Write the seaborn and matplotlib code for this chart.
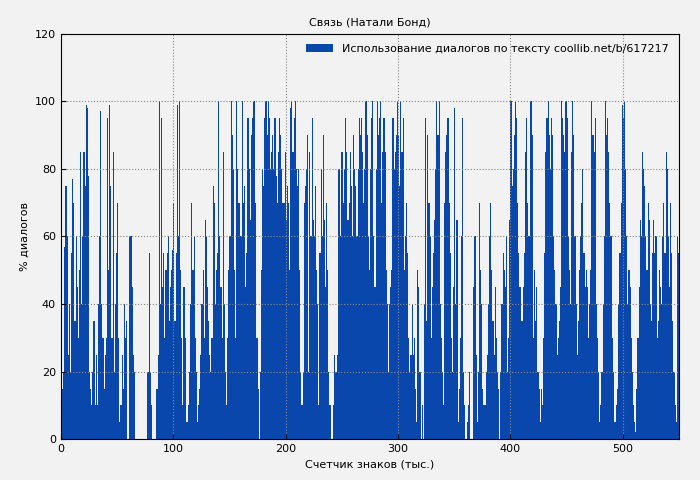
import numpy as np
import pandas as pd
import matplotlib
matplotlib.use('Agg')
import matplotlib.pyplot as plt
import seaborn as sns

# % dialogue per thousand characters
usage = [
    30,15,20,57,75,60,25,40,20,55, 77,70,35,60,45,30,50,85,40,60,
    85,75,99,98,78,20,15,10,20,35, 10,25,10,40,60,97,40,30,15,25,
    30,95,50,99,75,30,85,20,40,55, 70,30,5,10,25,15,40,30,35,0,
    0,60,60,45,25,20,0,0,0,0, 0,0,0,0,0,0,0,20,55,20,
    10,0,0,0,0,15,25,100,40,95, 45,55,30,50,55,60,35,45,50,56,
    70,35,55,99,60,100,50,30,10,45, 30,5,5,10,20,40,70,50,60,30,
    20,5,10,15,25,40,50,30,65,60, 45,35,25,20,30,75,70,40,50,55,
    100,60,45,30,85,40,20,10,30,50, 60,100,90,80,50,30,100,80,70,60,
    60,100,70,75,45,55,95,80,65,90, 95,100,100,70,30,15,0,20,50,80,
    75,95,100,90,100,95,80,85,90,80, 95,78,70,85,95,90,80,70,70,85,
    65,75,70,50,98,100,85,95,100,80, 75,80,50,20,10,20,70,75,80,90,
    20,85,60,95,65,60,75,50,40,10, 55,80,60,90,65,45,70,50,20,10,
    0,0,10,25,20,20,25,80,60,85, 85,70,80,95,85,65,70,85,75,60,
    90,80,75,60,80,95,90,95,85,70, 80,100,90,60,50,80,95,100,60,45,
    80,100,90,95,100,70,85,95,85,50, 40,20,40,45,50,95,80,85,90,100,
    90,75,100,85,95,50,60,70,55,30, 20,25,40,25,30,15,5,50,45,20,
    0,10,0,40,95,35,90,70,60,30, 45,55,65,80,100,90,100,40,30,20,
    10,70,85,90,95,70,55,30,20,45, 98,40,65,5,15,30,60,95,20,10,
    0,5,10,20,0,0,0,45,60,25, 5,20,70,50,40,15,10,10,20,25,
    40,60,70,50,35,25,45,30,20,15, 0,20,40,55,50,45,60,20,30,65,
    100,75,80,90,100,95,70,55,45,35, 35,45,55,85,95,70,60,100,100,90,
    30,50,35,45,20,15,5,15,10,30, 55,85,95,100,90,80,95,90,60,50,
    40,25,30,35,45,100,95,90,85,100, 95,60,50,40,85,100,90,60,40,25,
    35,50,60,70,80,55,45,50,45,30, 40,50,100,90,85,95,40,30,20,5,
    10,20,40,60,100,90,95,85,70,60, 30,20,5,5,10,15,40,55,70,99,
    95,100,80,60,40,50,45,30,20,10, 5,2,15,30,45,65,60,85,80,75,
    60,50,70,65,40,35,55,65,55,60, 30,35,50,45,40,60,70,55,85,80,
    60,45,70,55,35,20,10,5,60,55,
]
chars = list(range(len(usage)))
df = pd.DataFrame({'chars': chars, 'usage': usage})

bg = '#f2f2f2'
fig, ax = plt.subplots(figsize=(7, 4.8), dpi=100)
fig.patch.set_facecolor(bg)
ax.set_facecolor(bg)

sns.histplot(data=df, x='chars', weights='usage', bins=list(range(len(usage) + 1)),
             color='#0a47ad', alpha=1, linewidth=0, ax=ax,
             label='Использование диалогов по тексту coollib.net/b/617217')

ax.set_xlim(0, 550)
ax.set_ylim(0, 120)
ax.set_xticks(range(0, 501, 100))
ax.set_yticks(range(0, 121, 20))
ax.grid(True, color='#888888', linestyle=':', linewidth=0.8)
ax.tick_params(labelsize=8, direction='in')
ax.set_xlabel('Счетчик знаков (тыс.)', fontsize=8)
ax.set_ylabel('% диалогов', fontsize=8)
ax.set_title('Связь (Натали Бонд)', fontsize=8)
ax.legend(loc='upper right', fontsize=8, frameon=False, handlelength=2.5)

plt.subplots_adjust(left=0.087, right=0.97, top=0.93, bottom=0.085)
plt.savefig('out.png', dpi=100, facecolor=bg)
